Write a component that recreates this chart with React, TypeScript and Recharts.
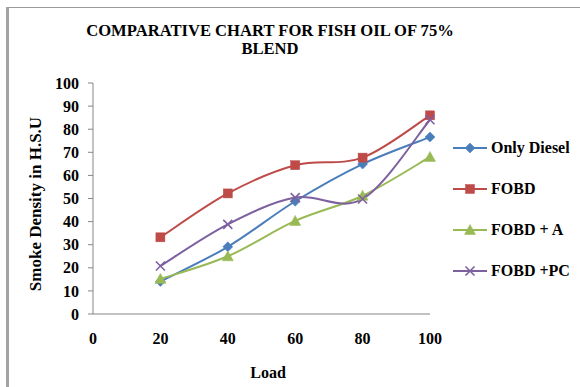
import React from 'react';
import { LineChart, Line, XAxis, YAxis } from 'recharts';

// Load (%) on the x axis
const loads = [20, 40, 60, 80, 100];
// Smoke density readings (H.S.U) per fuel
const onlyDiesel = [14.1, 29.1, 48.8, 64.9, 76.6];
const fobd = [33.2, 52.2, 64.4, 67.7, 86.0];
const fobdA = [15.2, 25.0, 40.3, 51.2, 68.0];
const fobdPC = [20.8, 38.8, 50.4, 49.8, 84.1];

const xTicks = [0, 20, 40, 60, 80, 100];
const yTicks = [0, 10, 20, 30, 40, 50, 60, 70, 80, 90, 100];

const seriesNames = ['Only Diesel', 'FOBD', 'FOBD + A', 'FOBD +PC'];

const data = loads.map((load, i) => ({
  load,
  d: onlyDiesel[i],
  f: fobd[i],
  fa: fobdA[i],
  fp: fobdPC[i],
}));

const FONT = '"Liberation Serif", "Times New Roman", serif';
const AXIS_GREY = '#868686';

// Smoothed line: Catmull-Rom style cubic segments through every point
const smoothCurve = (context: any) => {
  let xs: number[] = [];
  let ys: number[] = [];
  return {
    areaStart() {},
    areaEnd() {},
    lineStart() {
      xs = [];
      ys = [];
    },
    point(x: number, y: number) {
      xs.push(+x);
      ys.push(+y);
    },
    lineEnd() {
      const n = xs.length;
      if (!n) return;
      context.moveTo(xs[0], ys[0]);
      for (let i = 0; i < n - 1; i++) {
        const p = Math.max(i - 1, 0);
        const q = Math.min(i + 2, n - 1);
        const c1x = xs[i] + (xs[i + 1] - xs[p]) / 6;
        const c1y = ys[i] + (ys[i + 1] - ys[p]) / 6;
        const c2x = xs[i + 1] - (xs[q] - xs[i]) / 6;
        const c2y = ys[i + 1] - (ys[q] - ys[i]) / 6;
        context.bezierCurveTo(c1x, c1y, c2x, c2y, xs[i + 1], ys[i + 1]);
      }
    },
  };
};

type Shape = 'diamond' | 'square' | 'triangle' | 'x';

const Marker = ({ cx, cy, color, shape }: { cx: number; cy: number; color: string; shape: Shape }) => {
  if (cx == null || cy == null) return null;
  switch (shape) {
    case 'diamond':
      return (
        <path
          d={`M${cx},${cy - 5}L${cx + 5},${cy}L${cx},${cy + 5}L${cx - 5},${cy}Z`}
          fill={color}
          stroke={color}
          strokeWidth={0.5}
        />
      );
    case 'square':
      return <rect x={cx - 4.5} y={cy - 4.5} width={9} height={9} fill={color} stroke={color} strokeWidth={0.5} />;
    case 'triangle':
      return (
        <path
          d={`M${cx},${cy - 5.5}L${cx + 5.5},${cy + 4.5}L${cx - 5.5},${cy + 4.5}Z`}
          fill={color}
          stroke={color}
          strokeWidth={0.5}
        />
      );
    default:
      return (
        <path
          d={`M${cx - 4.5},${cy - 4.5}L${cx + 4.5},${cy + 4.5}M${cx + 4.5},${cy - 4.5}L${cx - 4.5},${cy + 4.5}`}
          stroke={color}
          strokeWidth={1.6}
          fill="none"
        />
      );
  }
};

const series: { key: string; name: string; color: string; shape: Shape }[] = [
  { key: 'd', name: seriesNames[0], color: '#4A7EBB', shape: 'diamond' },
  { key: 'f', name: seriesNames[1], color: '#BE4B48', shape: 'square' },
  { key: 'fa', name: seriesNames[2], color: '#98B954', shape: 'triangle' },
  { key: 'fp', name: seriesNames[3], color: '#7D60A0', shape: 'x' },
];

const tickStyle = { fontFamily: FONT, fontWeight: 'bold' as const, fontSize: 16, fill: '#000' };

export default function App() {
  return (
    <div style={{ position: 'absolute', left: 0, top: 0, width: 580, height: 387, background: '#fff', overflow: 'hidden' }}>
      {/* frame edges */}
      <div style={{ position: 'absolute', left: 6, top: 7, width: 574, height: 1, background: '#9a9a9a' }} />
      <div style={{ position: 'absolute', left: 6, top: 7, width: 3, height: 380, background: '#a3a3a3' }} />

      <div
        style={{
          position: 'absolute',
          left: 60,
          top: 22,
          width: 420,
          textAlign: 'center',
          fontFamily: FONT,
          fontWeight: 'bold',
          fontSize: 16.6,
          lineHeight: '18px',
        }}
      >
        COMPARATIVE CHART FOR FISH OIL OF 75%
        <br />
        BLEND
      </div>

      <div
        style={{
          position: 'absolute',
          left: 35.5,
          top: 204,
          transform: 'translate(-50%, -50%) rotate(-90deg)',
          whiteSpace: 'nowrap',
          fontFamily: FONT,
          fontWeight: 'bold',
          fontSize: 17,
        }}
      >
        Smoke Density in H.S.U
      </div>

      <div
        style={{
          position: 'absolute',
          left: 268,
          top: 373,
          transform: 'translate(-50%, -50%)',
          fontFamily: FONT,
          fontWeight: 'bold',
          fontSize: 16,
        }}
      >
        Load
      </div>

      {/* legend */}
      <div
        style={{
          position: 'absolute',
          left: 453,
          top: 127,
          fontFamily: FONT,
          fontWeight: 'bold',
          fontSize: 16,
          color: '#000',
        }}
      >
        {series.map((s) => (
          <div key={s.key} style={{ display: 'flex', alignItems: 'center', height: 41 }}>
            <svg width={36} height={14} style={{ marginRight: 2 }}>
              <line x1={0} y1={7} x2={34} y2={7} stroke={s.color} strokeWidth={2} />
              <Marker cx={17} cy={7} color={s.color} shape={s.shape} />
            </svg>
            <span style={{ whiteSpace: 'nowrap' }}>{s.name}</span>
          </div>
        ))}
      </div>

      <div style={{ position: 'absolute', left: 0, top: 0 }}>
        <LineChart width={580} height={387} data={data} margin={{ top: 83, right: 150, bottom: 43, left: 33 }}>
          <XAxis
            dataKey="load"
            type="number"
            domain={[0, 100]}
            ticks={xTicks}
            tickLine={false}
            tickSize={0}
            tickMargin={19}
            height={30}
            axisLine={{ stroke: AXIS_GREY, strokeWidth: 1 }}
            tick={tickStyle}
            interval={0}
          />
          <YAxis
            type="number"
            domain={[0, 100]}
            ticks={yTicks}
            width={60}
            tickSize={5}
            tickMargin={9}
            tickLine={{ stroke: AXIS_GREY }}
            axisLine={{ stroke: AXIS_GREY, strokeWidth: 1 }}
            tick={tickStyle}
            interval={0}
          />
          {series.map((s) => (
            <Line
              key={s.key}
              dataKey={s.key}
              name={s.name}
              type={smoothCurve as any}
              stroke={s.color}
              strokeWidth={2}
              isAnimationActive={false}
              dot={(props: any) => <Marker key={`${s.key}-${props.index}`} cx={props.cx} cy={props.cy} color={s.color} shape={s.shape} />}
              activeDot={false}
            />
          ))}
        </LineChart>
      </div>
    </div>
  );
}
